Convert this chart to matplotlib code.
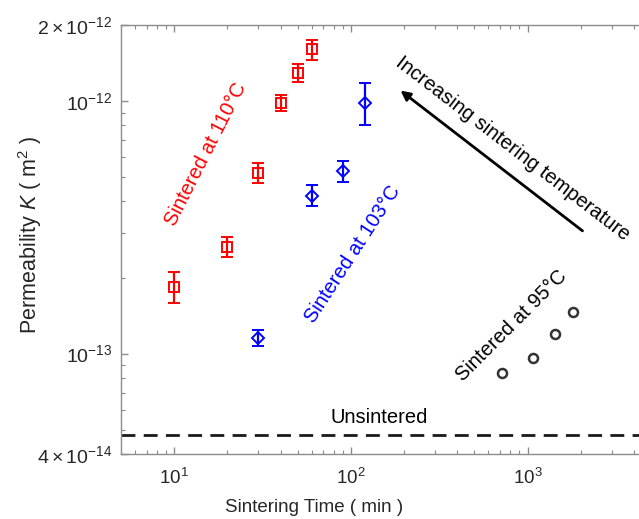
import numpy as np
import matplotlib
matplotlib.use("Agg")
import matplotlib.pyplot as plt
from matplotlib.ticker import FixedLocator, FixedFormatter, LogLocator, NullFormatter

plt.rcParams['font.family'] = ['Liberation Sans', 'DejaVu Sans']
plt.rcParams['mathtext.fontset'] = 'custom'
plt.rcParams['mathtext.rm'] = 'Liberation Sans'
plt.rcParams['mathtext.it'] = 'Liberation Sans:italic'
plt.rcParams['mathtext.default'] = 'regular'

# Sintered at 110 C
t110 = [10, 20, 30, 40, 50, 60]
k110 = [1.84e-13, 2.65e-13, 5.19e-13, 0.98e-12, 1.29e-12, 1.60e-12]
lo110 = [1.59e-13, 2.42e-13, 4.75e-13, 0.91e-12, 1.19e-12, 1.45e-12]
hi110 = [2.10e-13, 2.90e-13, 5.70e-13, 1.06e-12, 1.40e-12, 1.75e-12]

# Sintered at 103 C
t103 = [30, 60, 90, 120]
k103 = [1.15e-13, 4.21e-13, 5.29e-13, 0.98e-12]
lo103 = [1.07e-13, 3.85e-13, 4.80e-13, 0.80e-12]
hi103 = [1.24e-13, 4.65e-13, 5.80e-13, 1.18e-12]

# Sintered at 95 C
t95 = [720, 1080, 1440, 1800]
k95 = [0.834e-13, 0.964e-13, 1.20e-13, 1.46e-13]

k_unsintered = 4.74e-14

ytick_vals = [4e-14, 1e-13, 1e-12, 2e-12]
ytick_text = [r'$4\times10^{-14}$', r'$10^{-13}$', r'$10^{-12}$', r'$2\times10^{-12}$']

fig = plt.figure(figsize=(6.39, 5.19), dpi=100)
ax = fig.add_axes([121 / 639, 65 / 519, 530 / 639, 429 / 519])

ax.set_xscale('log')
ax.set_yscale('log')
ax.set_xlim(5, 5000)
ax.set_ylim(4e-14, 2e-12)

err110 = [np.array(k110) - np.array(lo110), np.array(hi110) - np.array(k110)]
ax.errorbar(t110, k110, yerr=err110, fmt='s', color='#ff0000', mfc='none',
            mec='#ff0000', ms=6.5, mew=1.4, elinewidth=1.6, capsize=4, capthick=1.6)

err103 = [np.array(k103) - np.array(lo103), np.array(hi103) - np.array(k103)]
ax.errorbar(t103, k103, yerr=err103, fmt='D', color='#0000ff', mfc='none',
            mec='#0000ff', ms=6.5, mew=1.4, elinewidth=1.6, capsize=4, capthick=1.6)

ax.plot(t95, k95, 'o', mfc='none', mec='#333333', ms=6.5, mew=1.8)

ax.axhline(k_unsintered, color='#1a1a1a', lw=2, ls=(0, (5, 3)))

# annotations
ax.text(15.2, 6.18e-13, 'Sintered at 110°C', color='#ff0000', fontsize=14.5,
        rotation=63, ha='center', va='center', rotation_mode='anchor')
ax.text(103, 2.48e-13, 'Sintered at 103°C', color='#0000ff', fontsize=14.5,
        rotation=57, ha='center', va='center', rotation_mode='anchor')
ax.text(813, 1.29e-13, 'Sintered at 95°C', color='black', fontsize=14.5,
        rotation=45, ha='center', va='center', rotation_mode='anchor')
ax.text(822, 6.46e-13, 'Increasing sintering temperature', color='black', fontsize=14.5,
        rotation=-37.5, ha='center', va='center', rotation_mode='anchor')
ax.text(144, 5.58e-14, 'Unsintered', color='black', fontsize=14.5,
        ha='center', va='center')
ax.annotate('', xy=(191, 1.10e-12), xytext=(2048, 3.06e-13),
            arrowprops=dict(arrowstyle='-|>', color='black', lw=2,
                            mutation_scale=14, shrinkA=0, shrinkB=0))

# axes styling (matlab-like)
for s in ax.spines.values():
    s.set_color('#8c8c8c')
    s.set_linewidth(1)
ax.yaxis.set_major_locator(FixedLocator(ytick_vals))
ax.yaxis.set_major_formatter(FixedFormatter(ytick_text))
ax.yaxis.set_minor_locator(LogLocator(base=10, subs=np.arange(2, 10)))
ax.yaxis.set_minor_formatter(NullFormatter())
ax.xaxis.set_minor_locator(LogLocator(base=10, subs=np.arange(2, 10)))
ax.xaxis.set_minor_formatter(NullFormatter())
ax.tick_params(which='both', direction='in', top=True, right=True,
               color='#8c8c8c', labelcolor='#262626', labelsize=13.5)
ax.tick_params(which='major', length=5, width=1)
ax.tick_params(which='minor', length=3, width=0.8)
ax.tick_params(axis='x', pad=10)
ax.tick_params(axis='y', pad=6.5, labelsize=14)

fig.text(314 / 639, 1 - 508 / 519, 'Sintering Time ( min )', fontsize=13.5,
         color='#262626', ha='center', va='center')
fig.text(30 / 639, 1 - 235 / 519, r'Permeability $\mathit{K}$ ( m$^2$ )', fontsize=15.5,
         color='#262626', ha='center', va='center', rotation=90)

fig.savefig('out.png', dpi=100)
